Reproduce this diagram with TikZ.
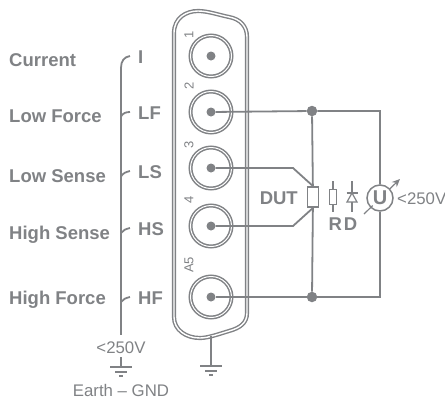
\documentclass[tikz,border=0pt]{standalone}
\usepackage{fontspec}
\setmainfont{Liberation Sans}
\usetikzlibrary{calc,arrows.meta}
\definecolor{ink}{HTML}{808285}
\tikzset{
	wire/.style={draw=ink,line width=1.8pt},
	fine/.style={draw=ink,line width=1.2pt},
	pinring/.style={circle,draw=ink,line width=1.5pt,double=white,double distance=1pt,minimum size=41pt,inner sep=0pt},
	pindot/.style={circle,fill=ink,minimum size=9pt,inner sep=0pt},
	joint/.style={circle,fill=ink,minimum size=10.5pt,inner sep=0pt},
	bold label/.style={text=ink,inner sep=0pt,text height=13.2pt,text depth=0pt,font=\fontsize{18.5}{20}\selectfont\bfseries},
	thin label/.style={text=ink,inner sep=0pt,text height=12pt,text depth=0pt,font=\fontsize{16.8}{18}\selectfont},
	pin number/.style={text=ink,inner sep=0pt,rotate=90,font=\fontsize{13}{14}\selectfont},
}
\newcommand{\earthbars}[1]{
	\draw[wire] ($(#1)+(-11,0)$) -- ($(#1)+(11,0)$);
	\draw[wire] ($(#1)+(-6,5)$) -- ($(#1)+(6,5)$);
	\draw[wire] ($(#1)+(-2,9)$) -- ($(#1)+(2,9)$);
}
\begin{document}
\begin{tikzpicture}[x=1pt,y=-1pt]
	\useasboundingbox (0,0) rectangle (445,400);
	
	%shell
	\draw[draw=ink,line width=1.4pt,double=white,double distance=1.4pt]
		(174,33) .. controls (174,18) and (186,11) .. (198,11)
		.. controls (208,11) and (219,15) .. (229,17)
		.. controls (240,19) and (247,26) .. (247,37)
		-- (247,313) .. controls (247,323) and (240,328) .. (229,331)
		.. controls (219,334) and (208,338) .. (200,338)
		.. controls (186,338) and (174,330) .. (174,317) -- cycle;
	
	%connectors
	\node[pinring] (c1) at (211,56) {};
	\node[pinring] (c2) at (211,112) {};
	\node[pinring] (c3) at (211,168) {};
	\node[pinring] (c4) at (211,226) {};
	\node[pinring] (c5) at (211,297) {};
	\node[pindot] (p1) at (c1) {};
	\node[pindot] (p2) at (c2) {};
	\node[pindot] (p3) at (c3) {};
	\node[pindot] (p4) at (c4) {};
	\node[pindot] (p5) at (c5) {};
	
	\node[pin number] (n1) at (189,35) {1};
	\node[pin number] (n2) at (189,86) {2};
	\node[pin number] (n3) at (189,145) {3};
	\node[pin number] (n4) at (189,200) {4};
	\node[pin number] (n5) at (189,265) {A5};
	
	%device side
	\node[joint] (j1) at (312,111) {};
	\node[joint] (j2) at (312,297) {};
	\node[draw=ink,line width=1.8pt,fill=white,minimum width=11pt,minimum height=20pt,inner sep=0pt] (dut) at (313,197) {};
	\node[circle,draw=ink,line width=1.5pt,minimum size=26pt,inner sep=0pt,text=ink,font=\fontsize{20}{20}\selectfont\bfseries] (U) at (380,198) {U};
	\coordinate (k1) at (380,111);
	\coordinate (k2) at (380,297);
	\coordinate (b3) at (293,168);
	\coordinate (b4) at (293,226);
	
	\draw[wire] (p2) -- (j1) -- (k1) -- (U);
	\draw[wire] (U) -- (k2) -- (j2) -- (p5);
	\draw[wire] (j1) -- (dut);
	\draw[wire] (dut) -- (j2);
	\draw[wire] (p3) -- (b3) -- (dut.north);
	\draw[wire] (p4) -- (b4) -- (dut.south);
	
	\coordinate (a1) at (364,214);
	\coordinate (a2) at (400,179);
	\draw[fine] (a1) -- ($(a1)!0.24!(a2)$);
	\draw[fine,-{Stealth[length=8pt,width=7pt]}] ($(a1)!0.72!(a2)$) -- (a2);
	
	%resistor and diode
	\node[fine,draw,minimum width=6.5pt,minimum height=15pt,inner sep=0pt] (R) at (333,197) {};
	\coordinate (r1) at (333,181);
	\coordinate (r2) at (333,212);
	\draw[fine] (r1) -- (R) -- (r2);
	\coordinate (d1) at (352,181);
	\coordinate (d2) at (352,212);
	\coordinate (d3) at (352,193);
	\coordinate (d4) at (352,202);
	\draw[fine] (d1) -- (d3) (d4) -- (d2);
	\draw[fine] ($(d3)+(-5.5,0)$) -- ($(d3)+(5.5,0)$);
	\draw[fine] (d3) -- ($(d4)+(-5,0)$) -- ($(d4)+(5,0)$) -- cycle;
	
	\node[bold label,anchor=east] (dutl) at (298,198) {DUT};
	\node[bold label] (rd) at (343,224) {R\hspace{2pt}D};
	\node[thin label,anchor=west] (ul) at (397,198) {<250V};
	
	%left labels
	\node[bold label,anchor=west] (l1) at (9,60) {Current};
	\node[bold label,anchor=west] (l2) at (9,116) {Low Force};
	\node[bold label,anchor=west] (l3) at (9,176) {Low Sense};
	\node[bold label,anchor=west] (l4) at (9,233) {High Sense};
	\node[bold label,anchor=west] (l5) at (9,298) {High Force};
	
	\node[bold label,anchor=west] (I) at (138,57) {I};
	\node[bold label,anchor=west] (LF) at (138,113) {LF};
	\node[bold label,anchor=west] (LS) at (138,172) {LS};
	\node[bold label,anchor=west] (HS) at (138,229) {HS};
	\node[bold label,anchor=west] (HF) at (138,298) {HF};
	
	%bus
	\coordinate (s0) at (121,68);
	\coordinate (e0) at (121,335);
	\draw[wire] (s0) -- (e0);
	\draw[wire] (s0) .. controls (121,61) and (124,57) .. ($(I.west)+(-8,-1)$);
	\draw[wire] (121,116.5) .. controls (123,113) and (126,112) .. ($(LF.west)+(-8,-1)$);
	\draw[wire] (121,176.5) .. controls (123,173) and (126,172) .. ($(LS.west)+(-8,-1)$);
	\draw[wire] (121,233) .. controls (123,230) and (126,229) .. ($(HS.west)+(-8,-1)$);
	\draw[wire] (121,302) .. controls (123,299) and (126,298) .. ($(HF.west)+(-8,-1)$);
	
	%ground
	\node[thin label] (lim) at (121,347) {<250V};
	\coordinate (g1) at (121,357);
	\coordinate (g2) at (121,367);
	\draw[wire] (g1) -- (g2);
	\earthbars{g2}
	\node[thin label] (gnd) at (121,390) {Earth – GND};
	
	\coordinate (g3) at (211,336);
	\coordinate (g4) at (211,366);
	\draw[wire] (g3) -- (g4);
	\earthbars{g4}
\end{tikzpicture}
\end{document}
